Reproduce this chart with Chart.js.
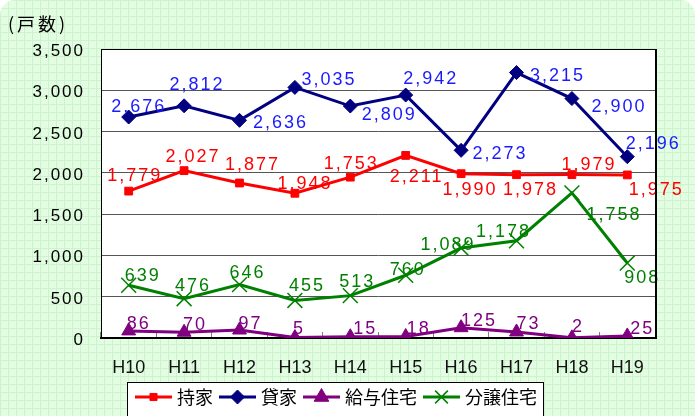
<!DOCTYPE html>
<html>
<head>
<meta charset="utf-8">
<script src="https://cdn.jsdelivr.net/npm/chart.js@4.4.1/dist/chart.umd.min.js"></script>
<style>
  html, body { margin: 0; padding: 0; background: #fff; }
  #wrap { width: 695px; height: 416px; }
</style>
</head>
<body>
<div id="wrap"><canvas id="chart" width="695" height="416"></canvas></div>
<script>
// data
const years = ['H10', 'H11', 'H12', 'H13', 'H14', 'H15', 'H16', 'H17', 'H18', 'H19'];
const seriesNames = ['持家', '貸家', '給与住宅', '分譲住宅'];
const owned = [1779, 2027, 1877, 1753, 1948, 2211, 1990, 1978, 1979, 1975];
// the picture prints the H13 / H14 tags the other way round
const ownedTags = ['1,779', '2,027', '1,877', '1,948', '1,753', '2,211', '1,990', '1,978', '1,979', '1,975'];
const rented = [2676, 2812, 2636, 3035, 2809, 2942, 2273, 3215, 2900, 2196];
const company = [86, 70, 97, 5, 15, 18, 125, 73, 2, 25];
const forSale = [639, 476, 646, 455, 513, 760, 1089, 1178, 1758, 908];
const yMin = 0, yMax = 3500, yStep = 500;
const unitText = '(戸数)';

const fmt = (v) => v.toLocaleString('en-US');

const styles = [
  { line: '#ff0000', text: '#ff0000', point: 'rect', radius: 5.5, pw: 1, legendRadius: 5 },
  { line: '#000080', text: '#1a1aff', point: 'rectRot', radius: 7, pw: 1, legendRadius: 7 },
  { line: '#800080', text: '#800080', point: 'triangle', radius: 8, pw: 1, legendRadius: 8.5 },
  { line: '#008000', text: '#008000', point: 'crossRot', radius: 10.5, pw: 1.5, legendRadius: 9 },
];

// where each value tag sits relative to its point (dx, dy)
const tagOffsets = [
  [[5, -17], [8, -15], [12, -20], [9, -11], [0, -15], [10, 20], [8, 15], [13, 14], [16, -11], [28, 14]],
  [[9, -12], [12, -22], [40, 1], [33, -9], [38, 7], [24, -18], [38, 2], [40, 2], [46, 7], [25, -14]],
  [[9, -8], [10, -9], [10, -7], [3, -10], [14, -9], [12, -9], [17, -8], [11, -9], [5, -12], [14, -8]],
  [[13, -11], [8, -14], [7, -13], [11, -16], [6, -15], [1, -7], [-14, -5], [-14, -10], [41, 21], [14, 13]],
];

const numFont = "'Liberation Sans', Arial, sans-serif";
const cjkFont = "'Noto Sans CJK JP', 'Noto Sans', sans-serif";

// graph-paper background
function makePattern() {
  const c = document.createElement('canvas');
  c.width = 8; c.height = 8;
  const g = c.getContext('2d');
  g.fillStyle = '#e2fde2';
  g.fillRect(0, 0, 8, 8);
  g.fillStyle = '#cdf3cd';
  g.fillRect(0, 0, 8, 1);
  g.fillRect(0, 0, 1, 8);
  return g.createPattern(c, 'repeat');
}

// line + marker sample for the legend
function makeSample(s) {
  const c = document.createElement('canvas');
  c.width = 44; c.height = 20;
  const g = c.getContext('2d');
  g.strokeStyle = s.line;
  g.lineWidth = 3;
  g.beginPath();
  g.moveTo(6, 10);
  g.lineTo(43, 10);
  g.stroke();
  g.fillStyle = s.line;
  g.strokeStyle = s.line;
  g.lineWidth = s.pw;
  Chart.helpers.drawPoint(g, { pointStyle: s.point, radius: s.legendRadius, rotation: 0, borderWidth: s.pw }, 24.5, 10);
  return c;
}

const samples = styles.map(makeSample);

const decor = {
  id: 'decor',
  beforeDraw(chart) {
    const { ctx, chartArea: a, width, height } = chart;
    ctx.save();
    ctx.fillStyle = '#fff';
    ctx.fillRect(0, 0, width, height);
    ctx.beginPath();
    ctx.roundRect(0, 0, width, height + 30, [15, 15, 0, 0]);
    ctx.fillStyle = makePattern();
    ctx.fill();
    ctx.fillStyle = '#fff';
    ctx.fillRect(a.left, a.top, a.right - a.left, a.bottom - a.top);

    const hb = chart.legend.legendHitBoxes;
    if (hb && hb.length) {
      const first = hb[0], last = hb[hb.length - 1];
      const x0 = first.left - 7, x1 = last.left + last.width + 6;
      const y0 = first.top - 6;
      ctx.fillRect(x0, y0, x1 - x0, height + 10 - y0);
      ctx.strokeStyle = '#000';
      ctx.lineWidth = 1;
      ctx.strokeRect(Math.round(x0) + 0.5, Math.round(y0) + 0.5, Math.round(x1 - x0), height + 10 - y0);
    }

    ctx.fillStyle = '#000';
    ctx.font = '18px ' + cjkFont;
    ctx.letterSpacing = '3px';
    ctx.textAlign = 'left';
    ctx.textBaseline = 'middle';
    ctx.fillText(unitText, 8, 24);
    ctx.restore();
  },
  afterDatasetsDraw(chart) {
    const { ctx } = chart;
    ctx.save();
    ctx.font = '18px ' + numFont;
    ctx.letterSpacing = '2px';
    ctx.textAlign = 'center';
    ctx.textBaseline = 'alphabetic';
    chart.data.datasets.forEach((ds, d) => {
      const meta = chart.getDatasetMeta(d);
      ctx.fillStyle = styles[d].text;
      meta.data.forEach((pt, i) => {
        const text = ds.tags ? ds.tags[i] : fmt(ds.data[i]);
        const [dx, dy] = tagOffsets[d][i];
        ctx.fillText(text, pt.x + dx + 1, pt.y + dy + 6.5);
      });
    });
    ctx.restore();
  },
  afterDraw(chart) {
    const { ctx, chartArea: a, scales } = chart;
    ctx.save();
    // top and right edge of the plot frame
    ctx.strokeStyle = '#000';
    ctx.lineWidth = 1;
    ctx.beginPath();
    ctx.moveTo(a.left, Math.round(a.top) + 0.5);
    ctx.lineTo(a.right, Math.round(a.top) + 0.5);
    ctx.stroke();
    ctx.lineWidth = 2;
    ctx.beginPath();
    ctx.moveTo(Math.round(a.right) + 1, a.top);
    ctx.lineTo(Math.round(a.right) + 1, a.bottom + 1);
    ctx.stroke();

    // y tick labels, spaced like the original
    const y = scales.y;
    ctx.fillStyle = '#000';
    ctx.font = '17px ' + numFont;
    ctx.letterSpacing = '2px';
    ctx.textAlign = 'right';
    ctx.textBaseline = 'alphabetic';
    y.ticks.forEach((t) => {
      ctx.fillText(t.label, a.left - 16, y.getPixelForValue(t.value) + 7);
    });
    ctx.restore();
  },
};

const allData = [owned, rented, company, forSale];

new Chart(document.getElementById('chart'), {
  type: 'line',
  data: {
    labels: years,
    datasets: allData.map((vals, d) => ({
      label: seriesNames[d],
      data: vals,
      tags: d === 0 ? ownedTags : null,
      borderColor: styles[d].line,
      backgroundColor: styles[d].line,
      borderWidth: 3,
      pointStyle: styles[d].point,
      pointRadius: styles[d].radius,
      pointHoverRadius: styles[d].radius,
      pointBackgroundColor: styles[d].line,
      pointBorderColor: styles[d].line,
      pointBorderWidth: styles[d].pw,
      tension: 0,
      fill: false,
    })),
  },
  options: {
    responsive: false,
    animation: false,
    events: [],
    layout: { padding: { top: 49, left: 16, right: 40, bottom: 0 } },
    scales: {
      x: {
        offset: true,
        z: 1,
        grid: {
          offset: true,
          drawOnChartArea: false,
          drawTicks: true,
          tickLength: -6,
          color: '#808080',
          lineWidth: 1,
        },
        border: { display: true, color: '#000', width: 2 },
        ticks: {
          autoSkip: false,
          maxRotation: 0,
          padding: 25,
          color: '#111',
          font: { family: "'Liberation Sans Narrow', 'Liberation Sans', Arial", size: 18 },
        },
        afterFit(s) { s.height = 45; },
      },
      y: {
        min: yMin,
        max: yMax,
        ticks: { stepSize: yStep, display: false, callback: (v) => fmt(v) },
        grid: { color: '#555', lineWidth: 1, drawTicks: false },
        border: { display: true, color: '#000', width: 1 },
        afterFit(s) { s.width = 85; },
      },
    },
    plugins: {
      legend: {
        position: 'bottom',
        labels: {
          usePointStyle: true,
          pointStyleWidth: 34,
          padding: 5,
          color: '#000',
          font: { family: cjkFont, size: 18 },
          generateLabels(chart) {
            const items = Chart.defaults.plugins.legend.labels.generateLabels(chart);
            items.forEach((it, i) => { it.pointStyle = samples[i]; });
            return items;
          },
        },
      },
      tooltip: { enabled: false },
    },
  },
  plugins: [decor],
});
</script>
</body>
</html>
